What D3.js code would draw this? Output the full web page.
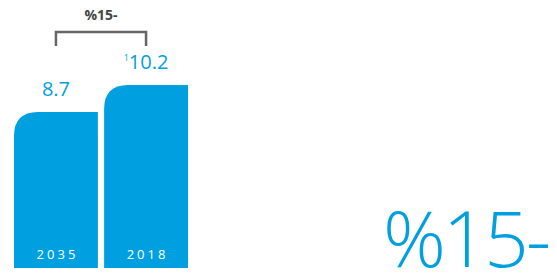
<!DOCTYPE html>
<meta charset="utf-8">
<style>
  body { margin: 0; background: #fff; }
  text { font-family: "Open Sans", "DejaVu Sans", sans-serif; }
</style>
<script src="https://cdn.jsdelivr.net/npm/d3@7"></script>
<body>
<script>

var years = ["2035", "2018"];
var values = [8.7, 10.2];
var valueLabels = ["8.7", "10.2"];
var notes = ["", "1"];
var changeLabel = "%15-";

var width = 557,
    height = 277,
    blue = "#009fdf",
    radius = 24;

var svg = d3.select("body")
            .append("svg")
            .attr("width", width)
            .attr("height", height);

var x = d3.scaleBand()
  .domain(years)
  .range([14, 188])
  .paddingInner(0.069)
  .paddingOuter(0);

var y = d3.scaleLinear()
  .domain([0, 10.2])
  .range([268, 85]);

// bar with only the top-left corner rounded
function barPath(x0, y0, w, h) {
  var r = Math.min(radius, h);
  return "M" + x0 + "," + (y0 + h) +
         "V" + (y0 + r) +
         "Q" + x0 + "," + y0 + " " + (x0 + r) + "," + y0 +
         "H" + (x0 + w) +
         "V" + (y0 + h) + "Z";
}

var bars = svg.selectAll(".bar")
  .data(values)
  .enter().append("g");

bars.append("path")
  .attr("d", function(d, i) {
    return barPath(x(years[i]), y(d), x.bandwidth(), y(0) - y(d));
  })
  .style("fill", blue);

bars.append("text")
  .attr("x", function(d, i) { return x(years[i]) + x.bandwidth() / 2 + 1.5; })
  .attr("y", 259)
  .attr("text-anchor", "middle")
  .style("fill", "#fff")
  .style("font-size", "13px")
  .style("letter-spacing", "3px")
  .text(function(d, i) { return years[i]; });

var vals = bars.append("text")
  .attr("x", function(d, i) { return x(years[i]) + x.bandwidth() / 2; })
  .attr("y", function(d) { return y(d) - 16; })
  .attr("text-anchor", "middle")
  .style("fill", blue)
  .style("font-size", "20px");

vals.append("tspan")
  .attr("dy", "-8")
  .style("font-size", "9px")
  .text(function(d, i) { return notes[i]; });

vals.append("tspan")
  .attr("dy", function(d, i) { return notes[i] ? 8 : 0; })
  .text(function(d, i) { return valueLabels[i]; });

// bracket between bars
var bx1 = x(years[0]) + x.bandwidth() / 2,
    bx2 = x(years[1]) + x.bandwidth() / 2;

svg.append("path")
  .attr("d", "M" + bx1 + ",46V32H" + bx2 + "V46")
  .style("fill", "none")
  .style("stroke", "#666")
  .style("stroke-width", 2.5);

svg.append("text")
  .attr("x", (bx1 + bx2) / 2)
  .attr("y", 20)
  .attr("text-anchor", "middle")
  .style("fill", "#444")
  .style("font-size", "14px")
  .style("font-weight", "bold")
  .text(changeLabel);

svg.append("text")
  .attr("x", 548)
  .attr("y", 267)
  .attr("text-anchor", "end")
  .style("fill", blue)
  .style("font-size", "78px")
  .style("font-weight", 300)
  .style("letter-spacing", "-3px")
  .text(changeLabel);

</script>
